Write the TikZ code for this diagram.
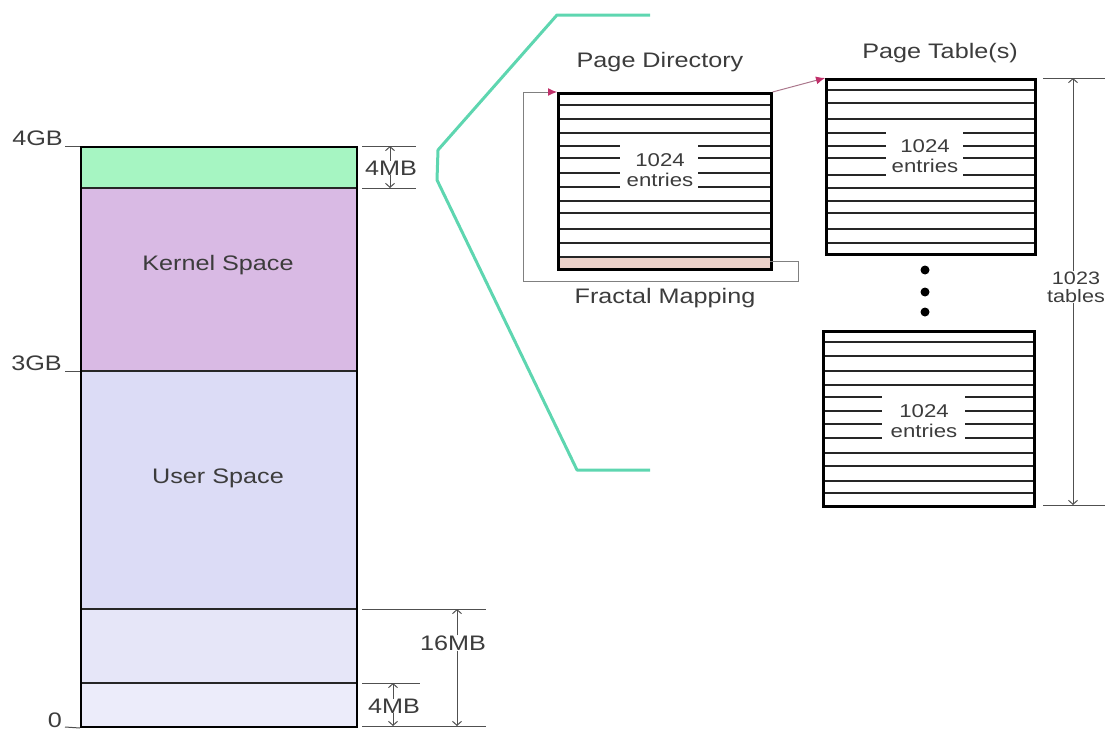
\documentclass[tikz,border=0pt]{standalone}
\usepackage{fontspec}
\setmainfont{Liberation Sans}[FakeStretch=1.2]
\usetikzlibrary{arrows.meta}
\definecolor{cgreen}{HTML}{A6F5C2}
\definecolor{cpurple}{HTML}{D9BAE4}
\definecolor{cuser}{HTML}{DCDCF6}
\definecolor{clowa}{HTML}{E6E6F8}
\definecolor{clowb}{HTML}{ECECFA}
\definecolor{cpink}{HTML}{ECD2CA}
\definecolor{cteal}{HTML}{5ED6B0}
\definecolor{cred}{HTML}{C0306A}
\definecolor{ctext}{HTML}{3C3C3C}
\definecolor{cdim}{HTML}{505050}
\begin{document}
\begin{tikzpicture}[x=1pt,y=-1pt,
  font=\fontsize{21}{20}\selectfont,
  lbl/.style={text=ctext, inner sep=0pt},
  cnt/.style={text=ctext, inner sep=0pt, align=center, font=\fontsize{18.5}{20}\selectfont},
  dim/.style={draw=cdim, line width=1pt},
  dimarr/.style={draw=cdim, line width=1pt, -{Straight Barb[length=4pt,width=9pt]}},
  stripe/.style={line width=1.3pt, draw=black!85},
  tbl/.style={draw=black, line width=2.6pt, inner sep=0pt, anchor=north west},
  loopline/.style={draw=black!50, line width=1pt},
  redtip/.style={-{Latex[color=cred,length=9pt,width=8pt]}},
  dot/.style={circle, fill=black, inner sep=0pt, minimum size=9pt}]
\useasboundingbox (0,0) rectangle (1105,731);

% ---------- memory column ----------
\fill[cgreen] (80,146) rectangle (356,188);
\fill[cpurple] (80,188) rectangle (356,371);
\fill[cuser] (80,371) rectangle (356,609);
\fill[clowa] (80,609) rectangle (356,683);
\fill[clowb] (80,683) rectangle (356,726);
\foreach \y in {188,371,609,683} \draw[line width=1.3pt, draw=black!85] (80,\y) -- (356,\y);
\node[draw=black, line width=2pt, inner sep=0pt, minimum width=276pt, minimum height=580pt, anchor=north west] (mem) at (80,146) {};

\node[lbl] (kern) at (218,265) {Kernel Space};
\node[lbl] (user) at (218,478) {User Space};

% axis labels and ticks
\node[lbl, anchor=base east] (g4) at (63,145) {4GB};
\node[lbl, anchor=base east] (g3) at (62,370) {3GB};
\node[lbl, anchor=base east] (g0) at (62,727) {0};
\draw[dim] (65,146) -- (mem.north west);
\draw[dim] (65,371) -- (80,371);
\draw[dim] (65,727) -- (mem.south west);

% 4MB (top)
\draw[dim] (362,146) -- (416,146);
\draw[dim] (362,188) -- (416,188);
\node[lbl] (mtop) at (391,168) {4MB};
\draw[dimarr] (mtop.north -| 390,0) -- (390,146);
\draw[dimarr] (mtop.south -| 390,0) -- (390,188);

% 16MB
\draw[dim] (362,609) -- (486,609);
\draw[dim] (362,726) -- (486,726);
\node[lbl] (m16) at (453,643) {16MB};
\draw[dimarr] (m16.north -| 457,0) -- (457,609);
\draw[dimarr] (m16.south -| 457,0) -- (457,726);

% 4MB (bottom)
\draw[dim] (362,683) -- (420,683);
\node[lbl] (mbot) at (394,706) {4MB};
\draw[dimarr] (mbot.north -| 393,0) -- (393,683);
\draw[dimarr] (mbot.south -| 393,0) -- (393,726);

% ---------- zoom bracket ----------
\coordinate (za) at (650,15);
\coordinate (zb) at (650,470);
\draw[cteal, line width=3pt, line join=round] (za) -- (557,15) -- (438,150) -- (437,180) -- (577,470) -- (zb);

% ---------- page directory ----------
\fill[cpink] (557,257) rectangle (770,268);
\foreach \y in {105,119,133,201,213,229,243,257} \draw[stripe] (557,\y) -- (770,\y);
\foreach \y in {146,158,173,187} \draw[stripe] (557,\y) -- (620,\y) (698,\y) -- (770,\y);
\node[tbl, minimum width=213pt, minimum height=176pt] (pd) at (557,92) {};
\node[cnt] (pdtxt) at (660,170) {1024\\entries};
\node[lbl] (pdlbl) at (660,62) {Page Directory};

% fractal mapping loop
\coordinate (fa) at (770,261);
\draw[loopline, redtip] (fa) -- (798,261) -- (798,281) -- (523,281) -- (523,92) -- (pd.north west);
\node[lbl] (fm) at (665,298) {Fractal Mapping};

% ---------- page tables ----------
\foreach \y in {90,103,119,188,201,213,229,243} \draw[stripe] (825,\y) -- (1034,\y);
\foreach \y in {133,146,158,175} \draw[stripe] (825,\y) -- (886,\y) (963,\y) -- (1034,\y);
\node[tbl, minimum width=209pt, minimum height=175pt] (pt1) at (825,78) {};
\node[cnt] (pt1txt) at (925,156) {1024\\entries};

\foreach \y in {342,356,371,385,453,466,481,493} \draw[stripe] (822,\y) -- (1033,\y);
\foreach \y in {397,411,424,438} \draw[stripe] (822,\y) -- (882,\y) (965,\y) -- (1033,\y);
\node[tbl, minimum width=211pt, minimum height=175pt] (pt2) at (822,330) {};
\node[cnt] (pt2txt) at (924,421) {1024\\entries};

\node[lbl] (ptlbl) at (940,53) {Page Table(s)};

\node[dot] (d1) at (925,270) {};
\node[dot] (d2) at (925,292) {};
\node[dot] (d3) at (925,312) {};

\draw[draw=cred!60!black!60, line width=1pt, redtip] (pd.north east) -- (pt1.north west);

% 1023 tables
\draw[dim] (1043,78) -- (1105,78);
\draw[dim] (1043,505) -- (1105,505);
\node[cnt, font=\fontsize{18}{18}\selectfont] (tt) at (1076,287) {1023\\tables};
\draw[dimarr] (tt.north -| 1073,0) -- (1073,78);
\draw[dimarr] (tt.south -| 1073,0) -- (1073,505);
\end{tikzpicture}
\end{document}
